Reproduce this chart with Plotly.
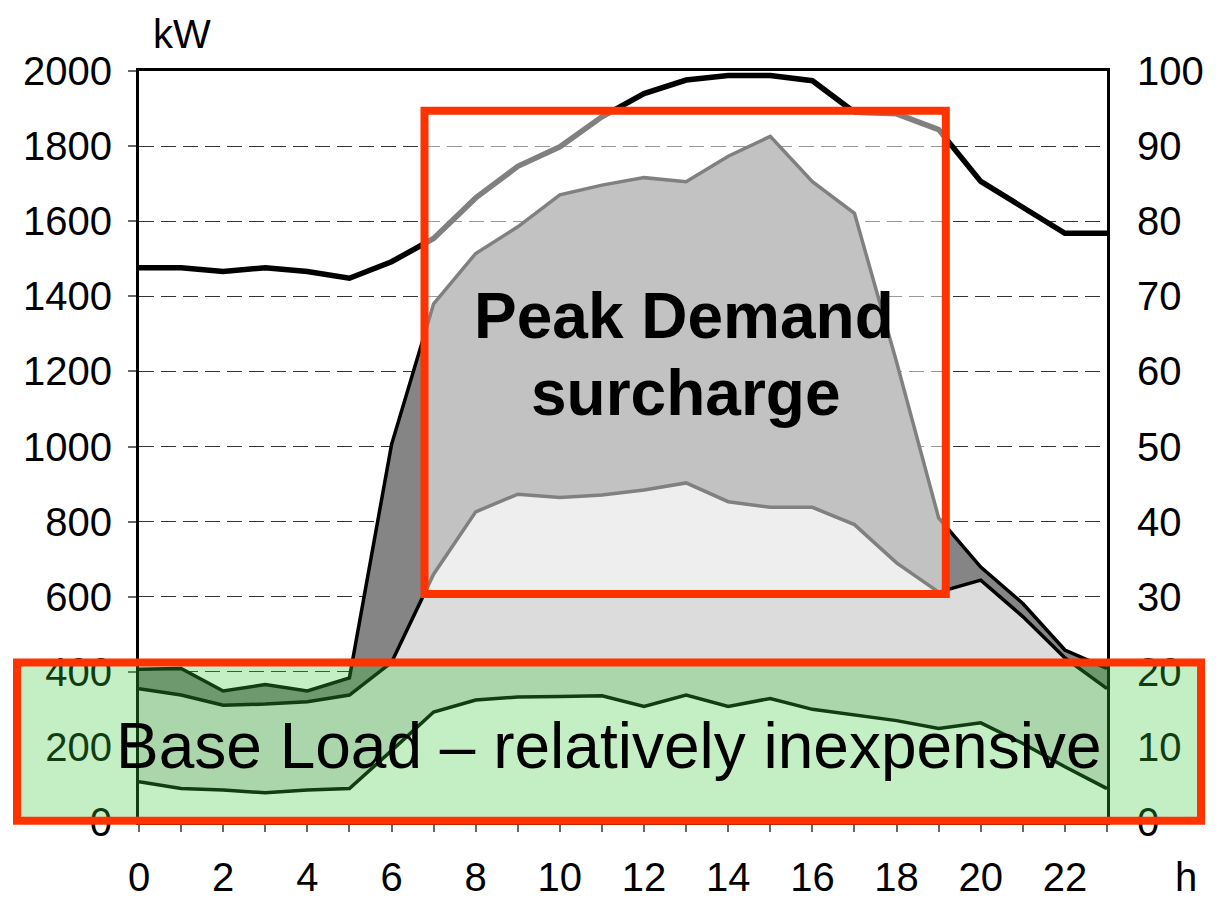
import plotly.graph_objects as go

# ---------------- data ----------------
hours = list(range(24))

# boundary of the lowest layer (kW)
line_a = [107, 89, 85, 78, 85, 89, 190, 293, 325, 333, 334, 336,
          308, 338, 308, 329, 300, 286, 270, 249, 264, 209, 147, 89]
# top of the light-grey layer (kW)
line_b = [355, 338, 311, 314, 320, 338, 425, 660, 826, 873, 864, 871,
          884, 903, 853, 838, 838, 792, 690, 612, 644, 547, 437, 355]
# top of the dark-grey layer (kW)
line_c = [407, 409, 349, 366, 349, 384, 1005, 1380, 1514, 1585, 1670, 1696,
          1716, 1705, 1773, 1826, 1705, 1621, 1225, 810, 679, 582, 458, 409]
# black curve on the right-hand axis (0-100)
right_curve = [73.8, 73.8, 73.3, 73.8, 73.3, 72.4, 74.6, 77.7, 83.1, 87.3, 89.9, 93.9,
               97.0, 98.8, 99.4, 99.4, 98.7, 94.5, 94.3, 92.2, 85.3, 81.9, 78.4, 78.4]

left_ticks = list(range(0, 2001, 200))
right_ticks = list(range(0, 101, 10))
x_ticktext = [str(h) if h % 2 == 0 else "" for h in hours]

# ---------------- geometry ----------------
W, H = 1224, 901
L, R, T, B = 139, 1107, 71, 822          # plot area in pixels


def px(xp):
    return (xp - L) / (R - L)


def py(yp):
    return (B - yp) / (B - T)


FONT = "Liberation Sans, Arial, sans-serif"
TICK_SIZE = 40

fig = go.Figure()

fig.add_trace(go.Scatter(x=hours, y=line_a, mode="lines", fill="tozeroy",
                         fillcolor="white", line=dict(color="black", width=3.5),
                         hoverinfo="skip", showlegend=False))
fig.add_trace(go.Scatter(x=hours, y=line_b, mode="lines", fill="tonexty",
                         fillcolor="#dcdcdc", line=dict(color="black", width=3.5),
                         hoverinfo="skip", showlegend=False))
fig.add_trace(go.Scatter(x=hours, y=line_c, mode="lines", fill="tonexty",
                         fillcolor="#858585", line=dict(color="black", width=3.5),
                         hoverinfo="skip", showlegend=False))
fig.add_trace(go.Scatter(x=hours, y=right_curve, mode="lines", yaxis="y2",
                         line=dict(color="black", width=5.5),
                         hoverinfo="skip", showlegend=False))

fig.update_layout(
    template="none",
    width=W, height=H, autosize=False,
    margin=dict(l=L, r=W - R, t=T, b=H - B, pad=0, autoexpand=False),
    paper_bgcolor="white", plot_bgcolor="white",
    font=dict(family=FONT, size=TICK_SIZE, color="black"),
    xaxis=dict(range=[0, 23], tickmode="array", tickvals=hours, ticktext=x_ticktext,
               ticks="outside", ticklen=7, tickwidth=1.5, tickcolor="#666",
               showline=True, linecolor="black", linewidth=3, mirror=True,
               showgrid=False, zeroline=False, ticklabelstandoff=11, automargin=False,
               tickfont=dict(size=TICK_SIZE, family=FONT)),
    yaxis=dict(range=[0, 2000], tickmode="array", tickvals=left_ticks,
               ticks="outside", ticklen=8, tickwidth=1.5, tickcolor="#666",
               showline=True, linecolor="black", linewidth=3, mirror=True,
               showgrid=True, gridcolor="#333", gridwidth=1.3, griddash="15px,7px",
               zeroline=False, ticklabelstandoff=8, automargin=False,
               tickfont=dict(size=TICK_SIZE, family=FONT)),
    yaxis2=dict(range=[0, 100], overlaying="y", side="right", tickmode="array",
                tickvals=right_ticks, ticks="", showgrid=False, zeroline=False,
                showline=False, ticklabelstandoff=29, automargin=False,
                tickfont=dict(size=TICK_SIZE, family=FONT)),
)

# highlight boxes
fig.add_shape(type="rect", xref="paper", yref="paper", layer="above",
              x0=px(424.5), x1=px(945.8), y0=py(594), y1=py(110.8),
              line=dict(color="#ff3300", width=8),
              fillcolor="rgba(255,255,255,0.5)")
fig.add_shape(type="rect", xref="paper", yref="paper", layer="above",
              x0=px(17), x1=px(1201), y0=py(820.8), y1=py(662.5),
              line=dict(color="#ff3300", width=8),
              fillcolor="rgba(60,200,60,0.3)")

# texts
fig.add_annotation(xref="paper", yref="paper", x=px(684), y=py(316),
                   text="<b>Peak Demand</b>", showarrow=False,
                   xanchor="center", yanchor="middle",
                   font=dict(size=64, family=FONT, color="black"))
fig.add_annotation(xref="paper", yref="paper", x=px(685), y=py(393),
                   text="<b>surcharge</b>", showarrow=False,
                   xanchor="center", yanchor="middle",
                   font=dict(size=64, family=FONT, color="black"))
fig.add_annotation(xref="paper", yref="paper", x=px(609), y=py(746),
                   text="Base Load \u2013 relatively inexpensive", showarrow=False,
                   xanchor="center", yanchor="middle",
                   font=dict(size=64, family=FONT, color="black"))
fig.add_annotation(xref="paper", yref="paper", x=px(182), y=py(34),
                   text="kW", showarrow=False, xanchor="center", yanchor="middle",
                   font=dict(size=40, family=FONT, color="black"))
fig.add_annotation(xref="paper", yref="paper", x=px(1186), y=py(877),
                   text="h", showarrow=False, xanchor="center", yanchor="middle",
                   font=dict(size=TICK_SIZE, family=FONT, color="black"))

fig.write_html("out.html", config={"displayModeBar": False},
               post_script="document.body.style.margin='0px';")
